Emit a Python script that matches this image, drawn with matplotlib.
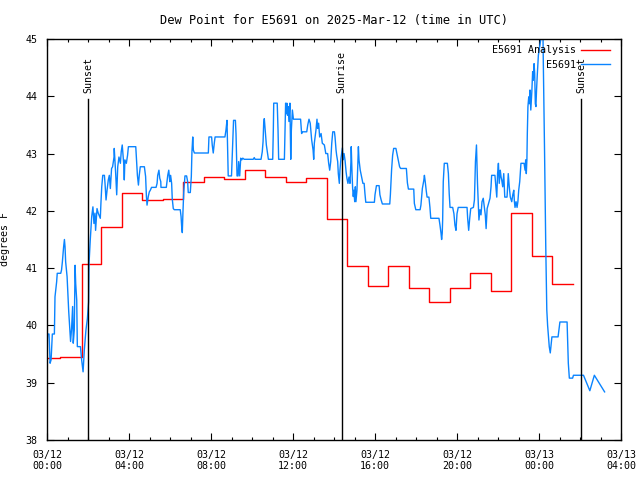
import matplotlib
matplotlib.use('Agg')
import matplotlib.pyplot as plt
import matplotlib.transforms as mtransforms

plt.rcParams['font.family'] = ['DejaVu Sans Mono']
plt.rcParams['font.size'] = 7.2

# time in hours since 03/12 00:00 UTC
obs_hours = [0.0, 0.03, 0.1, 0.15, 0.2, 0.26, 0.36, 0.39, 0.47, 0.5, 0.67, 0.71, 0.75, 0.81,
             0.85, 0.88, 0.91, 0.98, 1.06, 1.11, 1.15, 1.2, 1.25, 1.28, 1.33, 1.37, 1.4, 1.45,
             1.48, 1.63, 1.69, 1.76, 1.82, 1.9, 1.97, 2.03, 2.05, 2.11, 2.18, 2.24, 2.29, 2.34,
             2.37, 2.44, 2.5, 2.6, 2.63, 2.67, 2.72, 2.8, 2.83, 2.88, 2.93, 2.99, 3.04, 3.09,
             3.15, 3.2, 3.27, 3.28, 3.35, 3.4, 3.45, 3.51, 3.58, 3.62, 3.67, 3.74, 3.77, 3.8,
             3.87, 3.93, 3.97, 4.33, 4.36, 4.41, 4.46, 4.5, 4.55, 4.75, 4.81, 4.85, 4.88, 4.94,
             4.99, 5.04, 5.1, 5.32, 5.37, 5.4, 5.46, 5.5, 5.55, 5.56, 5.82, 5.89, 5.94, 5.99,
             6.03, 6.08, 6.11, 6.16, 6.21, 6.5, 6.54, 6.57, 6.6, 6.63, 6.67, 6.73, 6.81, 6.86,
             6.89, 6.99, 7.04, 7.07, 7.11, 7.14, 7.19, 7.87, 7.9, 8.03, 8.06, 8.11, 8.16, 8.2,
             8.68, 8.73, 8.78, 8.81, 8.84, 9.0, 9.05, 9.1, 9.19, 9.22, 9.27, 9.32, 9.35, 9.4,
             9.45, 9.5, 9.55, 9.62, 10.06, 10.11, 10.15, 10.44, 10.5, 10.54, 10.57, 10.6, 10.63,
             10.67, 10.7, 10.75, 10.8, 11.01, 11.04, 11.06, 11.23, 11.27, 11.3, 11.58, 11.61,
             11.64, 11.67, 11.7, 11.73, 11.77, 11.8, 11.85, 11.89, 11.92, 11.97, 12.02, 12.37,
             12.42, 12.47, 12.67, 12.72, 12.78, 12.84, 12.91, 12.98, 13.01, 13.04, 13.12, 13.17,
             13.2, 13.25, 13.3, 13.37, 13.43, 13.53, 13.6, 13.69, 13.74, 13.79, 13.84, 13.89,
             13.94, 14.02, 14.05, 14.1, 14.13, 14.18, 14.21, 14.26, 14.29, 14.34, 14.41, 14.44,
             14.49, 14.54, 14.59, 14.63, 14.68, 14.73, 14.78, 14.83, 14.84, 14.88, 14.91, 14.94,
             14.97, 15.01, 15.04, 15.07, 15.12, 15.15, 15.19, 15.22, 15.28, 15.35, 15.41, 15.47,
             15.51, 15.55, 15.97, 16.0, 16.07, 16.2, 16.24, 16.3, 16.36, 16.72, 16.75, 16.78,
             16.81, 16.86, 16.91, 17.02, 17.07, 17.14, 17.2, 17.25, 17.53, 17.58, 17.63, 17.89,
             17.92, 17.99, 18.2, 18.24, 18.31, 18.38, 18.41, 18.45, 18.5, 18.54, 18.63, 18.68,
             18.72, 19.12, 19.17, 19.22, 19.25, 19.28, 19.3, 19.33, 19.38, 19.53, 19.58, 19.62,
             19.66, 19.79, 19.85, 19.9, 19.95, 20.0, 20.06, 20.49, 20.52, 20.57, 20.62, 20.67,
             20.8, 20.85, 20.9, 20.95, 21.0, 21.04, 21.07, 21.12, 21.17, 21.22, 21.28, 21.33,
             21.38, 21.42, 21.47, 21.56, 21.61, 21.66, 21.69, 21.85, 21.89, 21.94, 21.98, 22.02,
             22.06, 22.11, 22.15, 22.18, 22.23, 22.28, 22.33, 22.44, 22.47, 22.5, 22.55, 22.6,
             22.67, 22.72, 22.77, 22.8, 22.83, 22.88, 22.93, 22.97, 23.01, 23.06, 23.12, 23.27,
             23.32, 23.35, 23.38, 23.41, 23.43, 23.46, 23.5, 23.53, 23.56, 23.6, 23.62, 23.65,
             23.69, 23.72, 23.76, 23.79, 23.82, 23.85, 23.88, 23.92, 23.97, 24.01, 24.08, 24.1,
             24.19, 24.21, 24.27, 24.33, 24.38, 24.42, 24.5, 24.55, 24.63, 24.93, 25.02, 25.37,
             25.43, 25.48, 25.64, 25.68, 26.17, 26.48, 26.7, 27.2]
obs_dewpt = [39.66, 39.85, 39.85, 39.34, 39.40, 39.85, 39.85, 40.50, 40.76, 40.91, 40.91, 40.97,
             41.11, 41.37, 41.50, 41.37, 41.11, 40.85, 40.24, 39.95, 39.72, 39.95, 40.33, 39.69,
             39.92, 41.05, 40.73, 40.44, 39.63, 39.63, 39.40, 39.19, 39.57, 39.92, 40.12, 40.41,
             41.08, 41.49, 41.90, 42.07, 41.78, 41.96, 41.66, 42.04, 41.96, 41.87, 42.13, 42.42,
             42.62, 42.62, 42.48, 42.19, 42.36, 42.54, 42.62, 42.39, 42.74, 42.77, 42.94, 43.09,
             42.65, 42.28, 42.77, 42.94, 42.83, 43.03, 43.15, 42.83, 42.54, 42.89, 42.83, 42.97,
             43.12, 43.12, 42.94, 42.62, 42.45, 42.62, 42.77, 42.77, 42.60, 42.25, 42.10, 42.25,
             42.33, 42.36, 42.41, 42.41, 42.48, 42.62, 42.71, 42.57, 42.51, 42.41, 42.41, 42.62,
             42.71, 42.51, 42.62, 42.48, 42.21, 42.04, 42.02, 42.02, 41.90, 41.72, 41.62, 41.96,
             42.33, 42.61, 42.61, 42.51, 42.32, 42.32, 42.60, 43.03, 43.29, 43.06, 43.01, 43.01,
             43.29, 43.29, 43.15, 43.01, 43.18, 43.29, 43.29, 43.41, 43.58, 43.09, 42.61, 42.61,
             43.12, 43.58, 43.58, 43.35, 42.61, 42.61, 42.86, 42.61, 42.92, 42.89, 42.92, 42.90,
             42.90, 42.93, 42.90, 42.90, 43.03, 43.21, 43.53, 43.61, 43.47, 43.29, 43.15, 43.03,
             42.90, 42.90, 43.41, 43.88, 43.88, 43.41, 42.90, 42.90, 43.41, 43.88, 43.70, 43.88,
             43.67, 43.82, 43.56, 43.88, 42.90, 43.41, 43.76, 43.60, 43.60, 43.35, 43.38, 43.38,
             43.50, 43.60, 43.53, 43.24, 43.06, 42.90, 43.18, 43.41, 43.60, 43.44, 43.53, 43.29,
             43.35, 43.18, 43.15, 43.00, 43.00, 42.83, 42.71, 42.86, 43.18, 43.38, 43.38, 43.29,
             43.06, 42.97, 42.86, 42.65, 42.48, 42.71, 42.92, 43.10, 42.89, 43.00, 42.88, 42.68,
             42.57, 42.48, 42.59, 42.48, 42.89, 43.12, 42.65, 42.39, 42.25, 42.36, 42.16, 42.42,
             42.16, 42.36, 42.71, 43.12, 42.89, 42.71, 42.59, 42.48, 42.48, 42.30, 42.15, 42.15,
             42.28, 42.44, 42.44, 42.28, 42.19, 42.12, 42.12, 42.28, 42.49, 42.72, 42.97, 43.09,
             43.09, 43.00, 42.87, 42.77, 42.74, 42.74, 42.49, 42.38, 42.38, 42.13, 42.02, 42.02,
             42.10, 42.39, 42.53, 42.62, 42.51, 42.35, 42.24, 42.24, 42.06, 41.87, 41.87, 41.75,
             41.61, 41.50, 41.61, 41.84, 42.51, 42.83, 42.83, 42.65, 42.30, 42.06, 42.06, 41.95,
             41.75, 41.66, 41.95, 42.06, 42.06, 41.87, 41.66, 41.87, 42.04, 42.06, 42.19, 42.86,
             43.15, 42.48, 42.13, 41.84, 42.02, 41.93, 42.16, 42.22, 42.07, 41.93, 41.69, 42.04,
             42.16, 42.22, 42.42, 42.62, 42.62, 42.45, 42.24, 42.65, 42.83, 42.48, 42.71, 42.59,
             42.54, 42.42, 42.65, 42.24, 42.24, 42.42, 42.65, 42.42, 42.24, 42.16, 42.28, 42.36,
             42.16, 42.06, 42.16, 42.06, 42.16, 42.36, 42.51, 42.83, 42.83, 42.71, 42.89, 42.65,
             42.89, 43.35, 43.82, 43.99, 43.87, 44.11, 43.76, 43.90, 44.08, 44.43, 44.28, 44.57,
             44.40, 43.87, 43.82, 44.11, 44.40, 44.72, 44.81, 44.98, 45.2, 45.2, 44.6, 43.06,
             41.37, 40.27, 40.00, 39.63, 39.52, 39.80, 39.80, 40.06, 40.06, 39.34, 39.08, 39.08,
             39.13, 39.13, 38.86, 39.13, 38.84]

# hourly analysis (step changes)
ana_hours = [0.0, 0.65, 1.7, 2.65, 3.65, 4.65, 5.65, 6.65, 7.65, 8.65, 9.65, 10.65, 11.65,
             12.65, 13.65, 14.65, 15.65, 16.65, 17.65, 18.65, 19.65, 20.65, 21.65, 22.65,
             23.65, 24.65, 25.65]
ana_dewpt = [39.43, 39.45, 41.07, 41.71, 42.32, 42.19, 42.20, 42.50, 42.59, 42.55, 42.71,
             42.59, 42.50, 42.57, 41.85, 41.04, 40.69, 41.04, 40.66, 40.41, 40.65, 40.91,
             40.60, 41.97, 41.21, 40.72, 40.72]

sun_events = [2.02, 14.37, 26.06]
sun_labels = ['Sunset', 'Sunrise', 'Sunset']

tick_hours = [0, 4, 8, 12, 16, 20, 24, 28]
tick_labels = ['03/12\n00:00', '03/12\n04:00', '03/12\n08:00', '03/12\n12:00',
               '03/12\n16:00', '03/12\n20:00', '03/13\n00:00', '03/13\n04:00']

fig = plt.figure(figsize=(6.4, 4.8), dpi=100)
ax = fig.add_axes([47 / 640, 40 / 480, 574 / 640, 401 / 480])

ax.step(ana_hours, ana_dewpt, where='post', color='#ff0000', lw=1.0, label='E5691 Analysis')
ax.plot(obs_hours, obs_dewpt, color='#0a84ff', lw=1.0, label='E5691')

trans = mtransforms.blended_transform_factory(ax.transData, ax.transAxes)
for t, lab in zip(sun_events, sun_labels):
    ax.axvline(t, ymin=0, ymax=0.85, color='black', lw=1.0)
    ax.text(t, 0.865, lab, transform=trans, rotation=90, ha='center', va='bottom')

ax.set_xlim(0, 28)
ax.set_ylim(38, 45)
ax.set_xticks(tick_hours)
ax.set_xticklabels(tick_labels, linespacing=1.1)
ax.set_xticks(range(0, 29), minor=True)
ax.set_yticks(range(38, 46))
ax.tick_params(which='both', direction='in', top=True, right=True, width=0.8)
ax.tick_params(which='major', length=5)
ax.tick_params(which='minor', length=2.5)
ax.tick_params(axis='x', pad=7)
ax.tick_params(axis='y', pad=7)
for s in ax.spines.values():
    s.set_linewidth(1.0)

ax.set_ylabel('degrees F')
ax.yaxis.set_label_coords(-0.065, 0.5)
ax.set_title('Dew Point for E5691 on 2025-Mar-12 (time in UTC)', pad=11)

ax.legend(loc='upper right', bbox_to_anchor=(0.985, 0.99), markerfirst=False, frameon=False,
          borderaxespad=0, borderpad=0.2, handlelength=2.9, handletextpad=0.5,
          labelspacing=0.45)

fig.savefig('out.png', dpi=100)
